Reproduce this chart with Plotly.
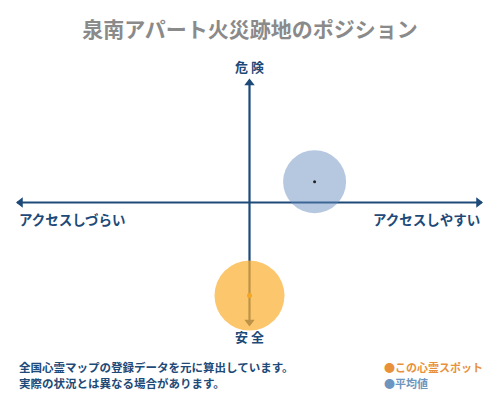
import plotly.graph_objects as go

title = "泉南アパート火災跡地のポジション"
series_names = ["この心霊スポット", "平均値"]
access = [0.0, 0.28]      # x: アクセスしづらい(-1) ... アクセスしやすい(+1)
danger = [-0.76, 0.17]    # y: 安全(-1) ... 危険(+1)
series_colors = ["rgba(251,176,52,0.72)", "rgba(95,135,185,0.46)"]
dot_colors = ["#f5a623", "#222222"]
label_colors = ["#e8913a", "#6d95c0"]
notes = ["全国心霊マップの登録データを元に算出しています。", "実際の状況とは異なる場合があります。"]

navy = "#1d4a78"
font = "Noto Sans CJK JP"

# page is shown with the default 8px body margin, so pixel targets are shifted by -8
L, R, T, B = 9, 26, 72, 83
plot_w = 500 - L - R
plot_h = 400 - T - B

fig = go.Figure()

# axes lines (drawn as traces so the circles can sit on top of them)
fig.add_trace(go.Scatter(x=[-1, 1], y=[0, 0], mode="lines", line=dict(color=navy, width=2.2),
                         showlegend=False, hoverinfo="skip"))
fig.add_trace(go.Scatter(x=[0, 0], y=[-1, 1], mode="lines", line=dict(color=navy, width=2.2),
                         showlegend=False, hoverinfo="skip"))
fig.add_trace(go.Scatter(x=[-0.985, 0.985, 0, 0], y=[0, 0, 0.975, -0.975], mode="markers",
                         marker=dict(symbol=["triangle-left", "triangle-right", "triangle-up", "triangle-down"],
                                     size=9, color=navy),
                         cliponaxis=False, showlegend=False, hoverinfo="skip"))

# average first, then this spot on top
for i in [1, 0]:
    fig.add_trace(go.Scatter(x=[access[i]], y=[danger[i]], mode="markers",
                             marker=dict(size=63 if i == 1 else 70, color=series_colors[i],
                                         line=dict(width=0)),
                             cliponaxis=False, name=series_names[i], showlegend=False,
                             hoverinfo="skip"))
    fig.add_trace(go.Scatter(x=[access[i]], y=[danger[i]], mode="markers",
                             marker=dict(size=3 if i == 1 else 5, color=dot_colors[i]),
                             showlegend=False, hoverinfo="skip"))

fig.add_annotation(x=0, y=1, xref="x", yref="y", yshift=14, text="<b>危 険</b>",
                   showarrow=False, font=dict(size=13, color=navy, family=font))
fig.add_annotation(x=0, y=-1, xref="x", yref="y", yshift=-11, text="<b>安 全</b>",
                   showarrow=False, font=dict(size=13, color=navy, family=font))
fig.add_annotation(x=-1, y=0, xref="x", yref="y", yshift=-16, xanchor="left",
                   text="<b>アクセスしづらい</b>", showarrow=False,
                   font=dict(size=13.5, color=navy, family=font))
fig.add_annotation(x=1, y=0, xref="x", yref="y", yshift=-16, xanchor="right",
                   text="<b>アクセスしやすい</b>", showarrow=False,
                   font=dict(size=13.5, color=navy, family=font))


def px(xp, yp):
    return (xp - L) / plot_w, (400 - B - yp) / plot_h


for k, line in enumerate(notes):
    ax_, ay_ = px(9, 359 + 16 * k)
    fig.add_annotation(x=ax_, y=ay_, xref="paper", yref="paper", text="<b>" + line + "</b>",
                       showarrow=False, xanchor="left", yanchor="middle",
                       font=dict(size=11.5, color=navy, family=font))

for k, name in enumerate(series_names):
    ax_, ay_ = px(374, 359 + 16 * k)
    fig.add_annotation(x=ax_, y=ay_, xref="paper", yref="paper",
                       text="<span style='color:%s'>●</span><b>%s</b>" % (label_colors[k], name),
                       showarrow=False, xanchor="left", yanchor="middle",
                       font=dict(size=11, color=label_colors[k], family=font))

fig.update_layout(
    width=500, height=400,
    margin=dict(l=L, r=R, t=T, b=B),
    paper_bgcolor="white", plot_bgcolor="white",
    title=dict(text="<b>" + title + "</b>", x=(250 - 8) / 500, xanchor="center",
               y=1 - 22 / 400, yanchor="middle",
               font=dict(size=21, color="#8a8a8a", family=font)),
    xaxis=dict(range=[-1, 1], visible=False, fixedrange=True),
    yaxis=dict(range=[-1, 1], visible=False, fixedrange=True),
)

fig.write_html("out.html")
